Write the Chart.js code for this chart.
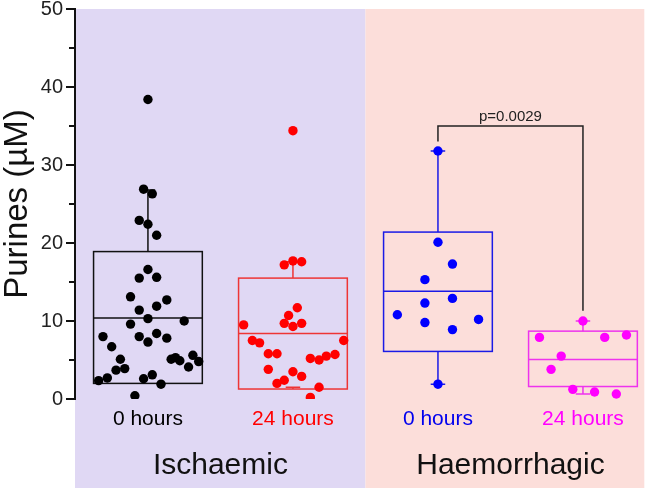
<!DOCTYPE html>
<html><head><meta charset="utf-8">
<script src="https://cdn.jsdelivr.net/npm/chart.js@4/dist/chart.umd.min.js"></script>
<style>html,body{margin:0;padding:0;background:#fff;}#wrap{width:649px;height:488px;}</style>
</head><body><div id="wrap"><canvas id="c" width="649" height="488"></canvas></div>
<script>
// ---------- data ----------
const categories = ['0 hours', '24 hours', '0 hours', '24 hours'];
const categoryColors = ['#000000', '#ff0000', '#0000ee', '#ff00ff'];
const groups = ['Ischaemic', 'Haemorrhagic'];
const yTickValues = [0, 10, 20, 30, 40, 50];

// values (µM) and horizontal jitter (category units)
const isch0Values = [38.4, 26.9, 26.3, 22.9, 22.4, 21.0, 16.6, 15.5, 15.6, 13.1, 12.7, 11.9, 11.4, 10.3, 10.0, 9.6, 8.4, 8.0, 7.8, 7.3, 8.0, 6.7, 5.1, 3.7, 3.9, 2.7, 2.35, 5.1, 5.3, 4.9, 5.6, 4.8, 4.1, 2.6, 3.1, 1.9, 0.42];
const isch0Jitter = [0.00, -0.03, 0.03, -0.06, 0.00, 0.06, 0.00, -0.06, 0.06, -0.12, 0.13, 0.06, -0.06, 0.00, 0.25, -0.12, 0.06, -0.06, 0.13, 0.00, -0.31, -0.25, -0.19, -0.22, -0.16, -0.28, -0.34, 0.16, 0.19, 0.22, 0.31, 0.35, 0.28, -0.03, 0.03, 0.09, -0.09];
const isch24Values = [34.4, 17.2, 17.7, 17.6, 11.7, 10.7, 9.7, 9.3, 9.7, 9.5, 7.5, 7.2, 7.5, 5.8, 5.8, 5.2, 5.0, 5.5, 5.7, 3.8, 3.5, 2.9, 2.4, 2.0, 1.5, 0.2];
const isch24Jitter = [0.00, -0.06, 0.00, 0.06, 0.03, -0.03, -0.06, 0.00, 0.06, -0.34, -0.28, -0.23, 0.35, -0.17, -0.11, 0.12, 0.18, 0.23, 0.29, -0.17, 0.00, 0.06, -0.06, -0.11, 0.18, 0.12];
const haem0Values = [31.8, 20.1, 17.3, 15.3, 12.9, 12.3, 10.8, 9.8, 10.2, 8.9, 1.9];
const haem0Jitter = [0.00, 0.00, 0.10, -0.09, 0.10, -0.09, -0.28, -0.09, 0.28, 0.10, 0.00];
const haem24Values = [10.0, 7.9, 7.9, 8.2, 5.5, 3.8, 1.24, 0.9, 0.64];
const haem24Jitter = [0.00, -0.30, 0.15, 0.30, -0.15, -0.22, -0.07, 0.08, 0.23];

// box-plot summaries per category
const boxQ1 = [2.0, 1.28, 6.1, 1.6];
const boxMedian = [10.4, 8.4, 13.8, 5.08];
const boxQ3 = [18.9, 15.5, 21.4, 8.7];
const whiskerLow = [2.0, 1.5, 1.9, 0.64];
const whiskerHigh = [26.8, 17.6, 31.8, 10.0];

// significance bracket between categories 2 and 3
const pLabel = 'p=0.0029';
const bracketCats = [2, 3];
const bracketTop = 35.0;
const bracketEnds = [33.0, 11.3];

// ---------- styling ----------
const dotColors = ['#000000', '#ff0000', '#0000ff', '#ff00ff'];
const boxColors = ['#111111', '#ee3535', '#1a1ae6', '#ee33ee'];
const bgColors = ['#e0d8f4', '#fcdeda'];
const FONT = "'Liberation Sans', Arial, sans-serif";

const seriesVals = [isch0Values, isch24Values, haem0Values, haem24Values];
const seriesJit = [isch0Jitter, isch24Jitter, haem0Jitter, haem24Jitter];
const datasets = seriesVals.map((vals, i) => ({
  label: categories[i],
  data: vals.map((v, k) => ({ x: i + seriesJit[i][k], y: v })),
  pointRadius: 4.7,
  pointHoverRadius: 4.7,
  pointBackgroundColor: dotColors[i],
  pointBorderWidth: 0,
  showLine: false
}));

const bgPlugin = {
  id: 'bg',
  beforeDraw(chart) {
    const { ctx, chartArea: a, scales: { x } } = chart;
    const mid = x.getPixelForValue(1.5);
    ctx.save();
    ctx.fillStyle = bgColors[0];
    ctx.fillRect(a.left, a.top, mid - a.left, chart.height - a.top);
    ctx.fillStyle = bgColors[1];
    ctx.fillRect(mid, a.top, a.right - mid, chart.height - a.top);
    ctx.restore();
  }
};

const boxPlugin = {
  id: 'boxes',
  beforeDatasetsDraw(chart) {
    const { ctx, scales: { x, y } } = chart;
    ctx.save();
    ctx.lineWidth = 1.5;
    for (let i = 0; i < categories.length; i++) {
      const l = x.getPixelForValue(i - 0.375), r = x.getPixelForValue(i + 0.375);
      const c = x.getPixelForValue(i);
      const cl = x.getPixelForValue(i - 0.05), cr = x.getPixelForValue(i + 0.05);
      const q1 = y.getPixelForValue(boxQ1[i]), q3 = y.getPixelForValue(boxQ3[i]);
      const md = y.getPixelForValue(boxMedian[i]);
      const wl = y.getPixelForValue(whiskerLow[i]), wh = y.getPixelForValue(whiskerHigh[i]);
      ctx.strokeStyle = boxColors[i];
      ctx.strokeRect(l, q3, r - l, q1 - q3);
      ctx.beginPath();
      ctx.moveTo(l, md); ctx.lineTo(r, md);
      ctx.moveTo(c, q3); ctx.lineTo(c, wh);
      ctx.moveTo(cl, wh); ctx.lineTo(cr, wh);
      if (Math.abs(wl - q1) > 0.5) {
        ctx.moveTo(c, q1); ctx.lineTo(c, wl);
        ctx.moveTo(cl, wl); ctx.lineTo(cr, wl);
      }
      ctx.stroke();
    }
    ctx.restore();
  },
  afterDatasetsDraw(chart) {
    const { ctx, scales: { x, y } } = chart;
    const x1 = x.getPixelForValue(bracketCats[0]), x2 = x.getPixelForValue(bracketCats[1]);
    const yt = y.getPixelForValue(bracketTop);
    ctx.save();
    ctx.strokeStyle = '#222222';
    ctx.lineWidth = 1.5;
    ctx.beginPath();
    ctx.moveTo(x1, y.getPixelForValue(bracketEnds[0]));
    ctx.lineTo(x1, yt); ctx.lineTo(x2, yt);
    ctx.lineTo(x2, y.getPixelForValue(bracketEnds[1]));
    ctx.stroke();
    ctx.fillStyle = '#222222';
    ctx.font = '15px ' + FONT;
    ctx.textAlign = 'center';
    ctx.textBaseline = 'alphabetic';
    ctx.fillText(pLabel, (x1 + x2) / 2, yt - 5.5);
    ctx.restore();
  },
  afterDraw(chart) {
    const { ctx, scales: { y }, chartArea: a } = chart;
    ctx.save();
    ctx.strokeStyle = '#111111';
    ctx.lineWidth = 2;
    ctx.beginPath();
    for (let k = 0; k < yTickValues.length; k++) {
      const v = yTickValues[k];
      const py = y.getPixelForValue(v);
      ctx.moveTo(a.left - 9, py); ctx.lineTo(a.left, py);
      if (k < yTickValues.length - 1) {
        const pm = y.getPixelForValue((v + yTickValues[k + 1]) / 2);
        ctx.moveTo(a.left - 6, pm); ctx.lineTo(a.left, pm);
      }
    }
    ctx.stroke();
    ctx.restore();
  }
};

new Chart(document.getElementById('c'), {
  type: 'scatter',
  data: { datasets },
  plugins: [bgPlugin, boxPlugin],
  options: {
    responsive: false,
    animation: false,
    devicePixelRatio: 1,
    layout: { padding: { top: 0, right: 4, left: 0, bottom: 0 } },
    plugins: { legend: { display: false }, tooltip: { enabled: false } },
    scales: {
      y: {
        type: 'linear', position: 'left', min: 0, max: 50,
        afterBuildTicks(s) { s.ticks = yTickValues.map(v => ({ value: v })); },
        afterFit(s) { s.width = 75; s.paddingTop = 9; s.paddingBottom = 0; },
        grid: { display: false, drawTicks: false },
        border: { display: true, color: '#111111', width: 2 },
        ticks: { padding: 12, color: '#222222', font: { family: FONT, size: 20 } },
        title: { display: true, text: 'Purines (µM)', color: '#111111', padding: { top: 1, bottom: 0 }, font: { family: FONT, size: 33, lineHeight: 1 } }
      },
      x: {
        type: 'linear', position: 'bottom', weight: 1, min: -0.503, max: 3.423,
        afterBuildTicks(s) { s.ticks = categories.map((c, i) => ({ value: i })); },
        afterFit(s) { s.height = 40; s.paddingLeft = 0; s.paddingRight = 0; },
        grid: { display: false, drawTicks: false },
        border: { display: false },
        ticks: {
          padding: 8, maxRotation: 0, autoSkip: false,
          font: { family: FONT, size: 21 },
          color: ctx => categoryColors[ctx.index],
          callback: (v, i) => categories[i]
        }
      },
      x2: {
        type: 'linear', position: 'bottom', weight: 2, min: -0.503, max: 3.423,
        afterBuildTicks(s) { s.ticks = groups.map((g, i) => ({ value: 0.5 + 2 * i })); },
        afterFit(s) { s.height = 49; s.paddingLeft = 0; s.paddingRight = 0; },
        grid: { display: false, drawTicks: false },
        border: { display: false },
        ticks: {
          padding: 9, maxRotation: 0, autoSkip: false,
          font: { family: FONT, size: 30 },
          color: '#111111',
          callback: (v, i) => groups[i]
        }
      }
    }
  }
});
</script></body></html>
